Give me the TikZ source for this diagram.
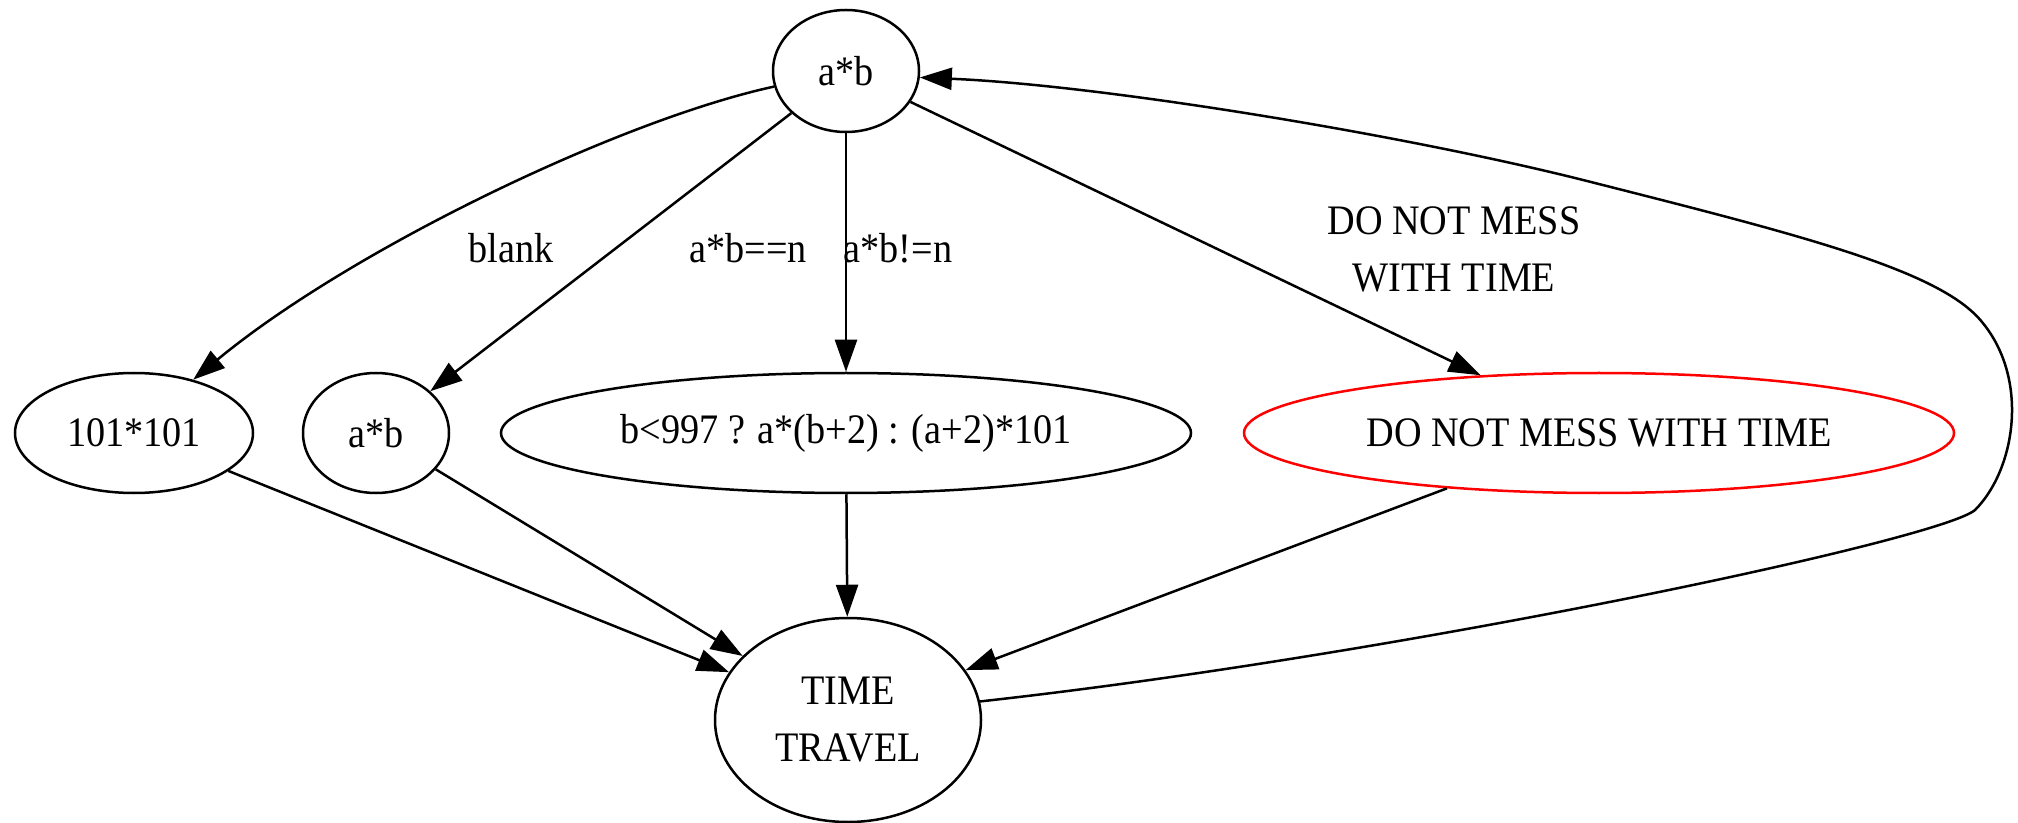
\documentclass[tikz,border=0pt]{standalone}
\usepackage{fontspec}
\setmainfont{Liberation Serif}[FakeStretch=0.91]
\usetikzlibrary{arrows.meta,shapes.geometric}

\begin{document}
\begin{tikzpicture}[x=0.5pt, y=-0.5pt, line width=1.25pt, font=\fontsize{21}{28.5}\selectfont,
    -{Triangle[length=16pt,width=11pt]},
    state/.style={draw, ellipse, inner sep=0pt}]
	\useasboundingbox (0,0) rectangle (2018,823);
	% nodes
	\node[state, minimum width=73pt, minimum height=61pt] (top) at (846,71) {a*b};
	\node[state, minimum width=119pt, minimum height=60pt] (l101) at (134,433) {101*101};
	\node[state, minimum width=73pt, minimum height=60pt] (mid) at (376,433) {a*b};
	\node[state, minimum width=345pt, minimum height=60pt] (cond) at (846,433) {b<997 ? a*(b+2) : (a+2)*101};
	\node[state, draw=red, minimum width=355pt, minimum height=60pt] (dont) at (1599,433) {DO NOT MESS WITH TIME};
	\node[state, minimum width=133pt, minimum height=102pt, align=center] (travel) at (848,720) {TIME\\TRAVEL};
	% edges out of a*b
	\draw (top) .. controls (620,120) and (350,250) .. (l101.42);
	\draw (top) -- (mid);
	\draw (top) -- (cond);
	\draw (top) -- (dont.154);
	\node at (511,248) {blank};
	\node at (748,248) {a*b==n};
	\node at (898,248) {a*b!=n};
	\node[align=center] at (1454,249) {DO NOT MESS\\WITH TIME};
	% into TIME TRAVEL
	\draw (l101) -- (travel);
	\draw (mid) -- (travel);
	\draw (cond) -- (travel);
	\draw (dont.200) -- (travel.23);
	% back edge
	\draw (travel.8) .. controls (1400,655) and (1940,540) .. (1975,510)
	  .. controls (2015,470) and (2030,380) .. (1982,322)
	  .. controls (1940,270) and (1800,235) .. (1583,180)
	  .. controls (1400,134) and (1100,85) .. (top.-5);
\end{tikzpicture}
\end{document}
